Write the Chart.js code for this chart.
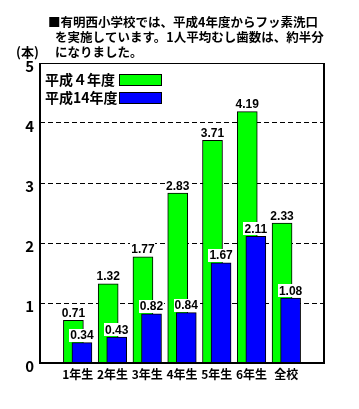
<!DOCTYPE html>
<html>
<head>
  <script src="https://cdn.jsdelivr.net/npm/chart.js@4/dist/chart.umd.min.js"></script>
  <style>
    html, body { margin: 0; padding: 0; background: #fff; }
    #chart { display: block; }
  </style>
</head>
<body>
  <canvas id="chart" width="359" height="409"></canvas>
  <script>
    const categories = ['1年生', '2年生', '3年生', '4年生', '5年生', '6年生', '全校'];
    const heisei4 = [0.71, 1.32, 1.77, 2.83, 3.71, 4.19, 2.33];
    const heisei14 = [0.34, 0.43, 0.82, 0.84, 1.67, 2.11, 1.08];
    const seriesLabels = ['平成４年度', '平成14年度'];
    const yTicks = [0, 1, 2, 3, 4, 5];
    const titleLines = [
      '■有明西小学校では、平成4年度からフッ素洗口',
      'を実施しています。1人平均むし歯数は、約半分',
      'になりました。'
    ];
    const unitLabel = '(本)';

    const CJK = "'Noto Sans CJK JP', sans-serif";
    const shift = 0.123; // half of the overlap offset, in category units

    const decor = {
      id: 'decor',
      beforeDraw(chart) {
        const ctx = chart.ctx;
        ctx.save();
        ctx.fillStyle = '#fff';
        ctx.fillRect(0, 0, chart.width, chart.height);
        ctx.restore();
      },
      afterDatasetsDraw(chart) {
        const ctx = chart.ctx;
        const a = chart.chartArea;
        ctx.save();
        // frame
        ctx.strokeStyle = '#000';
        ctx.lineWidth = 1;
        ctx.beginPath();
        ctx.moveTo(a.left, a.top + 0.5);
        ctx.lineTo(a.right, a.top + 0.5);
        ctx.stroke();
        ctx.lineWidth = 2;
        ctx.beginPath();
        ctx.moveTo(a.left, a.top);
        ctx.lineTo(a.left, a.bottom);
        ctx.lineTo(a.right, a.bottom);
        ctx.lineTo(a.right, a.top);
        ctx.stroke();

        // value labels
        ctx.font = "bold 12px 'Liberation Sans', Arial, sans-serif";
        ctx.textAlign = 'center';
        ctx.textBaseline = 'middle';
        chart.data.datasets.forEach((ds, d) => {
          const meta = chart.getDatasetMeta(d);
          meta.data.forEach((bar, i) => {
            const txt = ds.data[i].y.toFixed(2);
            const w = ctx.measureText(txt).width + 2;
            const h = 13;
            const bottom = bar.y - 1;
            ctx.fillStyle = '#fff';
            ctx.fillRect(Math.round(bar.x - w / 2), Math.round(bottom - h), Math.round(w), h);
            ctx.fillStyle = '#000';
            ctx.fillText(txt, bar.x, bottom - h / 2 + 0.5);
          });
        });
        ctx.restore();
      },
      afterDraw(chart) {
        const ctx = chart.ctx;
        ctx.save();
        ctx.fillStyle = '#000';
        ctx.textBaseline = 'middle';
        ctx.textAlign = 'left';
        ctx.font = 'bold 12.5px ' + CJK;
        ctx.fillText(titleLines[0], 48, 22);
        ctx.fillText(titleLines[1], 55, 37);
        ctx.fillText(titleLines[2], 55, 52);
        ctx.font = 'bold 13px ' + CJK;
        ctx.fillText(unitLabel, 16, 52);

        // legend
        const rows = [80, 98];
        ctx.font = 'bold 14px ' + CJK;
        chart.data.datasets.forEach((ds, d) => {
          ctx.fillStyle = '#000';
          ctx.fillText(ds.label, 45, rows[d]);
          ctx.fillStyle = ds.backgroundColor;
          ctx.fillRect(119, rows[d] - 6, 43, 12);
          ctx.strokeStyle = '#000';
          ctx.lineWidth = 1;
          ctx.strokeRect(119.5, rows[d] - 5.5, 42, 11);
        });
        ctx.restore();
      }
    };

    new Chart(document.getElementById('chart'), {
      type: 'bar',
      data: {
        datasets: [
          {
            label: seriesLabels[0],
            data: heisei4.map((v, i) => ({ x: i - shift, y: v })),
            backgroundColor: '#00ff00',
            borderColor: '#000',
            borderWidth: 1,
            barThickness: 20,
            grouped: false,
            order: 1
          },
          {
            label: seriesLabels[1],
            data: heisei14.map((v, i) => ({ x: i + shift, y: v })),
            backgroundColor: '#0000ff',
            borderColor: '#000',
            borderWidth: 1,
            barThickness: 20,
            grouped: false,
            order: 0
          }
        ]
      },
      options: {
        responsive: false,
        animation: false,
        devicePixelRatio: 1,
        layout: { padding: { top: 63, right: 35, left: 0, bottom: 0 } },
        plugins: {
          legend: { display: false },
          tooltip: { enabled: false },
          title: { display: false }
        },
        scales: {
          x: {
            type: 'linear',
            min: -0.5,
            max: 6.5,
            afterBuildTicks: (s) => { s.ticks = categories.map((c, i) => ({ value: i })); },
            afterFit: (s) => { s.height = 46; },
            grid: { display: false, drawTicks: false },
            border: { display: false },
            ticks: {
              autoSkip: false,
              maxRotation: 0,
              padding: 4,
              color: '#000',
              font: { family: CJK, size: 12, weight: 'bold' },
              callback: (v) => categories[v]
            }
          },
          y: {
            min: 0,
            max: 5,
            afterBuildTicks: (s) => { s.ticks = yTicks.map(v => ({ value: v })); },
            afterFit: (s) => { s.width = 40; },
            grid: { color: '#000', lineWidth: 1, drawTicks: false },
            border: { display: false, dash: [5, 3] },
            ticks: {
              padding: 6,
              labelOffset: 3,
              color: '#000',
              font: { family: CJK, size: 15, weight: 'bold' }
            }
          }
        }
      },
      plugins: [decor]
    });
  </script>
</body>
</html>
